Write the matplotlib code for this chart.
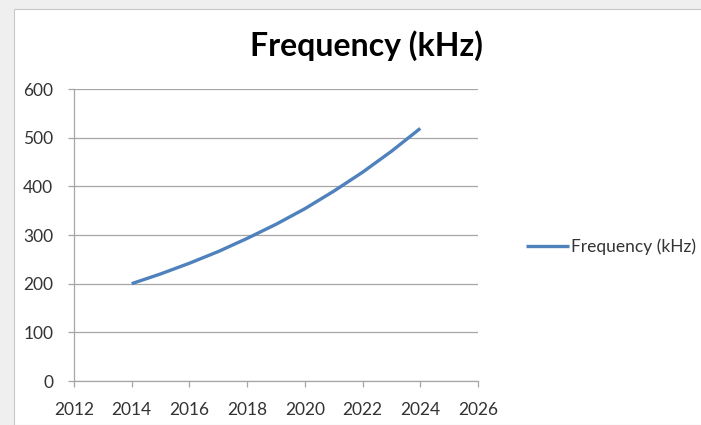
import matplotlib
matplotlib.use("Agg")
import matplotlib.pyplot as plt
from matplotlib.patches import Rectangle

years = [2014, 2015, 2016, 2017, 2018, 2019, 2020, 2021, 2022, 2023, 2024]
freq_khz = [200, 220, 242, 266, 293, 322, 354, 390, 429, 472, 519]
series_name = "Frequency (kHz)"
title = "Frequency (kHz)"
x_ticks = [2012, 2014, 2016, 2018, 2020, 2022, 2024, 2026]
y_ticks = [0, 100, 200, 300, 400, 500, 600]

plt.rcParams['font.family'] = ['Lato', 'DejaVu Sans']

W, H = 701, 425
fig = plt.figure(figsize=(W / 100, H / 100), dpi=100)
fig.patch.set_facecolor('#efefef')
# white chart area
bg = Rectangle((14 / W, 0), 1.0, 1 - 9 / H, transform=fig.transFigure,
               facecolor='white', edgecolor='#c8c8c8', linewidth=0.8, zorder=-10)
fig.patches.append(bg)

ax = fig.add_axes([74 / W, 44 / H, (478 - 74) / W, (381 - 89) / H])
ax.set_zorder(1)
ax.set_facecolor('none')
line, = ax.plot(years, freq_khz, color='#4f81bd', linewidth=2.4, solid_capstyle='butt',
                label=series_name, zorder=3)

ax.set_xlim(2012, 2026)
ax.set_ylim(0, 600)
ax.set_xticks(x_ticks)
ax.set_yticks(y_ticks)
ax.yaxis.grid(True, color='#a6a6a6', linewidth=0.9)
ax.xaxis.grid(False)
for s in ['top', 'right']:
    ax.spines[s].set_visible(False)
for s in ['left', 'bottom']:
    ax.spines[s].set_color('#a6a6a6')
    ax.spines[s].set_linewidth(0.9)
ax.tick_params(axis='both', colors='#a6a6a6', labelcolor='#333333', labelsize=12.5,
               length=4, width=0.9, direction='out')
ax.tick_params(axis='y', pad=11)
ax.tick_params(axis='x', pad=11)

fig.text(366 / W, 1 - 46 / H, title, ha='center', va='center', fontsize=23,
         fontweight='bold', color='black')

fig.legend(handles=[line], labels=[series_name], loc='center left',
           bbox_to_anchor=(526 / W, 1 - 247 / H), frameon=False, fontsize=12.5,
           handlelength=2.5, handletextpad=0.1, borderpad=0, borderaxespad=0,
           labelcolor='#333333')

fig.savefig('out.png', dpi=100, facecolor=fig.get_facecolor())
